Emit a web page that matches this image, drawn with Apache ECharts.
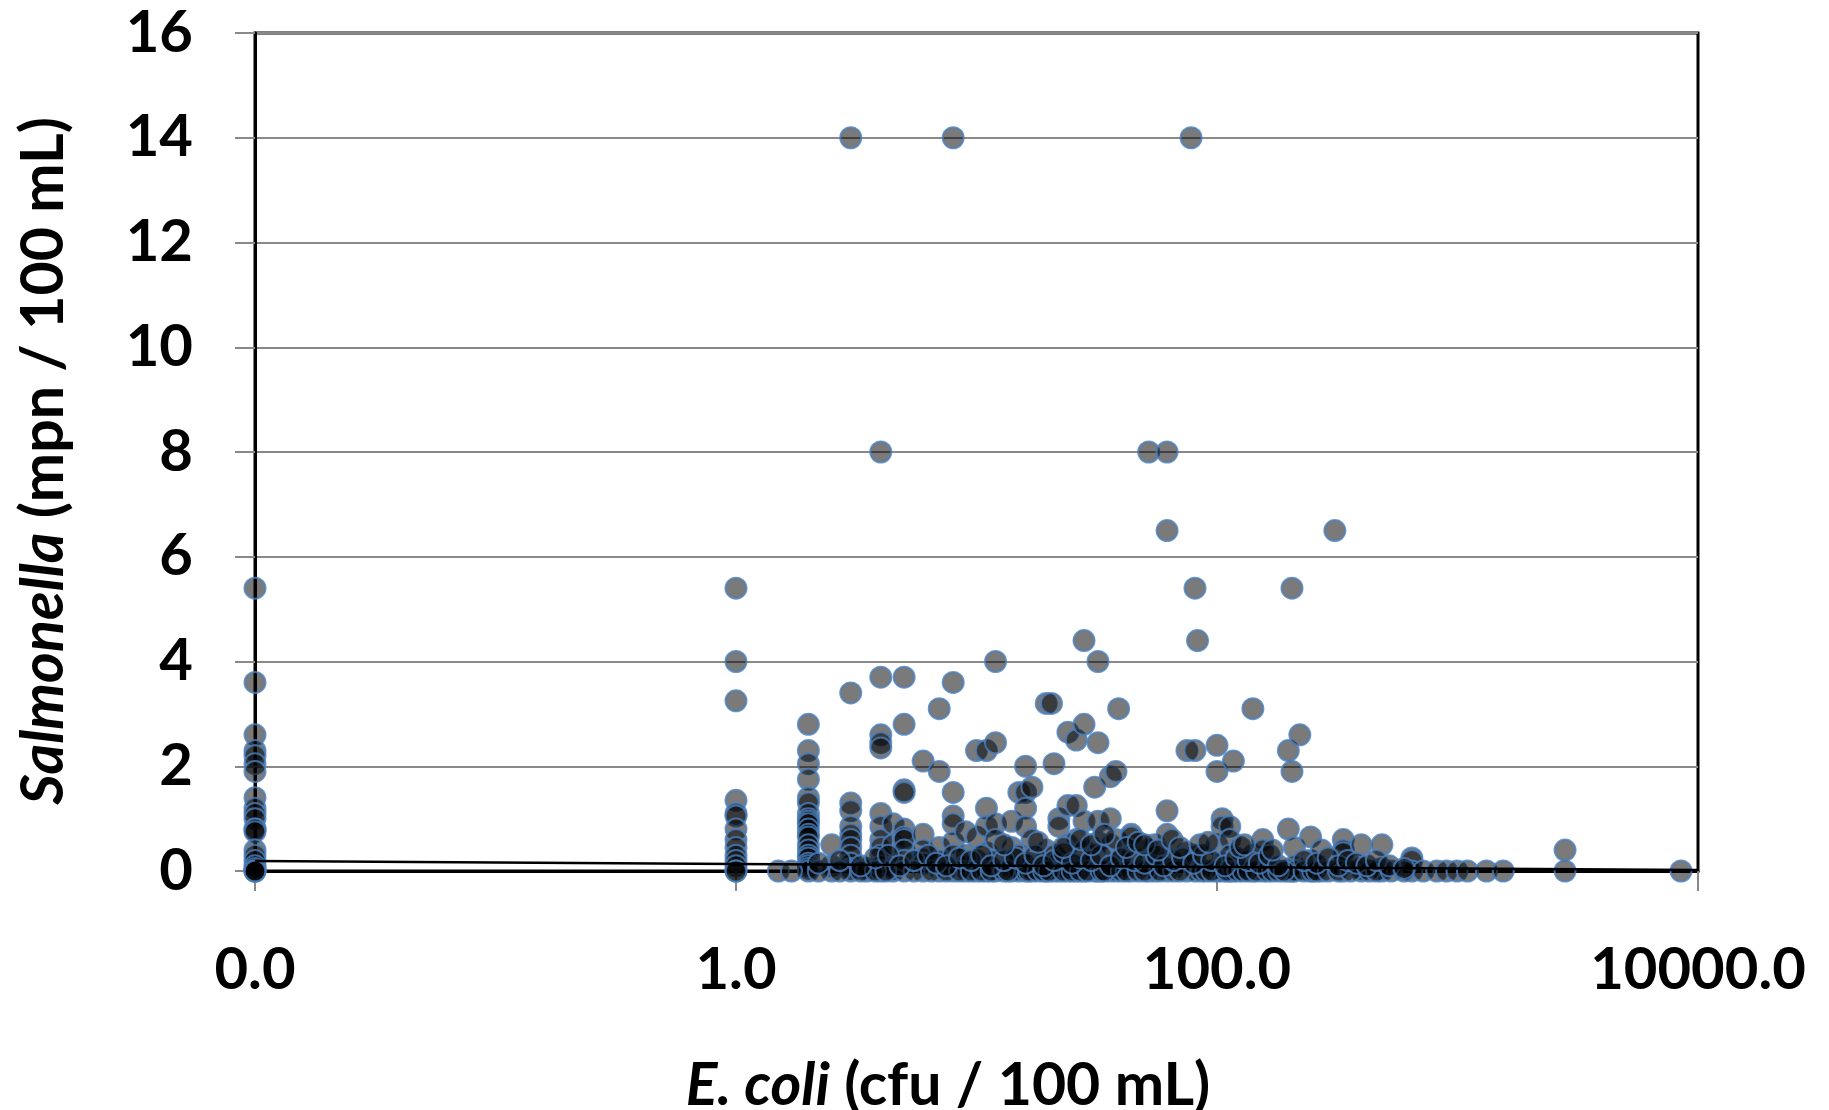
<!DOCTYPE html>
<html>
<head>
<meta charset="utf-8">
<script src="https://cdn.jsdelivr.net/npm/echarts@6/dist/echarts.min.js"></script>
<style>
html,body{margin:0;padding:0;background:#fff;}
#chart{width:1829px;height:1110px;}
</style>
</head>
<body>
<div id="chart"></div>
<script>
// ---- data ----
// E. coli = 0 plotted at the axis minimum (label "0.0")
const zeroColEcoli = 0.01;
const zeroColSalmonella = [5.4, 3.6, 2.6, 2.3, 2.2, 2.05, 1.9, 1.4, 1.2, 1.1, 1.0, 0.8, 0.8, 0.75, 0.4, 0.3, 0.2, 0.1, 0.05, 0, 0, 0];
const oneColEcoli = 1.0;
const oneColSalmonella = [5.4, 4.0, 3.25, 1.35, 1.1, 1.05, 0.8, 0.6, 0.45, 0.3, 0.2, 0.1, 0, 0];

const clusterEcoli = [2, 2.5, 3, 3.5, 4, 4.5, 5, 6, 7, 8, 9, 10, 11, 12, 14, 15, 16, 17, 19.5, 20.5, 21, 22, 24, 26, 28, 31, 32, 36, 38, 39, 44, 52, 55, 62, 75, 78, 81, 83, 100, 105, 113, 117, 141, 155, 198, 205, 210, 221, 245, 272, 309, 335, 398, 485, 646, 2800];
const clusterSalmonella = [
  [2.8, 2.3, 2.05, 1.75, 1.4, 1.3, 1.1, 1.0, 0.95, 0.9, 0.8, 0.7, 0.65, 0.5, 0.4, 0.3, 0.25, 0.15, 0.1, 0.05, 0],
  [0.5, 0.1, 0],
  [14, 3.4, 1.3, 1.15, 0.85, 0.7, 0.6, 0.45, 0.3, 0.15, 0.05, 0],
  [0.05, 0],
  [8, 3.7, 2.6, 2.45, 2.35, 1.1, 0.85, 0.6, 0.45, 0.3, 0.1, 0],
  [0.9, 0.5, 0.05, 0],
  [3.7, 2.8, 1.55, 1.5, 0.8, 0.65, 0.6, 0.4, 0.2, 0],
  [2.1, 0.7, 0.4, 0.25, 0.15, 0],
  [3.1, 1.9, 0.45, 0.2, 0],
  [14, 3.6, 1.5, 1.05, 0.9, 0.55, 0.3, 0],
  [0.75, 0.3, 0.1, 0],
  [2.3, 0.65, 0.2, 0],
  [2.3, 1.2, 0.85, 0.35, 0],
  [4.0, 2.45, 0.9, 0.6, 0.2, 0],
  [0.95, 0.45, 0.1, 0],
  [1.5, 0.3, 0],
  [2.0, 1.5, 1.2, 0.85, 0],
  [1.6, 0.6, 0.15, 0],
  [3.2, 0.4, 0],
  [3.2],
  [2.05, 0.3, 0],
  [1.0, 0.85, 0.2, 0],
  [2.65, 1.25, 0.5, 0],
  [2.5, 1.25, 0.6, 0.1, 0],
  [4.4, 2.8, 0.95, 0.4, 0],
  [1.6, 0.3, 0],
  [4.0, 2.45, 0.95, 0.55, 0],
  [1.8, 1.0, 0.5, 0],
  [1.9, 0.6, 0.1, 0],
  [3.1, 0.2],
  [0.7, 0.65, 0.3, 0],
  [8.0, 0.4, 0],
  [0.5, 0.1, 0],
  [8.0, 6.5, 1.15, 0.7, 0.2, 0],
  [2.3, 0.35, 0],
  [14],
  [5.4, 2.3, 0.3, 0],
  [4.4],
  [2.4, 1.9, 0.5, 0],
  [1.0, 0.85, 0.15, 0],
  [0.85, 0.6, 0.3, 0],
  [2.1, 0.1, 0],
  [3.1, 0.3, 0],
  [0.6, 0.4, 0],
  [2.3, 0.8, 0],
  [5.4, 1.9, 0],
  [0.45, 0.1, 0],
  [2.6],
  [0.65, 0.2, 0],
  [0.4, 0],
  [6.5],
  [0.6, 0.4, 0.35, 0],
  [0.5, 0.05, 0],
  [0.5, 0.05, 0],
  [0.25, 0.2, 0],
  [0.4, 0]
];

const zeroRowEcoli = [1.5, 1.7, 2.2, 2.7, 3.3, 3.8, 4.2, 5.5, 6.5, 7.5, 8.5, 9.5, 10.5, 11.5, 13, 13.5, 16.5, 18, 19, 20, 23, 25, 27, 29, 33, 34, 40, 42, 47, 50, 58, 66, 70, 86, 90, 95, 110, 122, 128, 135, 146, 162, 170, 180, 190, 230, 250, 260, 290, 320, 360, 430, 460, 530, 600, 720, 820, 900, 995, 1100, 1320, 1550, 8500];

const lowEcoli = [2.2, 2.7, 3.3, 3.8, 4.3, 4.8, 5.5, 6.3, 6.8, 7.5, 8.5, 9.5, 10.5, 11.5, 13, 14.5, 16, 17.5, 19, 21, 23, 25, 27, 30, 33, 36, 40, 45, 50, 56, 60, 66, 72, 80, 88, 95, 108, 120, 135, 150, 165, 180, 230, 260, 290, 320, 350, 380, 420, 460, 520, 600];
const lowSalmonella = [0.15, 0.2, 0.1, 0.25, 0.3, 0.1, 0.2, 0.3, 0.15, 0.1, 0.25, 0.2, 0.3, 0.1, 0.2, 0.25, 0.15, 0.3, 0.1, 0.2, 0.35, 0.15, 0.25, 0.2, 0.3, 0.1, 0.25, 0.2, 0.15, 0.3, 0.1, 0.2, 0.25, 0.15, 0.3, 0.2, 0.1, 0.25, 0.2, 0.15, 0.3, 0.1, 0.2, 0.15, 0.25, 0.1, 0.2, 0.15, 0.1, 0.2, 0.1, 0.05];

const midEcoli = [13, 18, 23, 27, 30, 34, 42, 47, 50, 57, 65, 70, 85, 92, 125, 130, 170];
const midSalmonella = [0.5, 0.55, 0.45, 0.6, 0.5, 0.7, 0.45, 0.55, 0.5, 0.4, 0.6, 0.45, 0.5, 0.55, 0.45, 0.5, 0.4];

const trendEcoli = [0.01, 10000];
const trendSalmonella = [0.19, 0.02];

const xTicks = [0.01, 1, 100, 10000];
const yTicks = [0, 2, 4, 6, 8, 10, 12, 14, 16];

// ---- build points ----
const points = [];
zeroColSalmonella.forEach(y => points.push([zeroColEcoli, y]));
oneColSalmonella.forEach(y => points.push([oneColEcoli, y]));
clusterEcoli.forEach((x, i) => (clusterSalmonella[i] || []).forEach(y => points.push([x, y])));
zeroRowEcoli.forEach(x => points.push([x, 0]));
lowEcoli.forEach((x, i) => points.push([x, lowSalmonella[i]]));
midEcoli.forEach((x, i) => points.push([x, midSalmonella[i]]));
const trend = trendEcoli.map((x, i) => [x, trendSalmonella[i]]);

const FONT = 'Lato';
const chart = echarts.init(document.getElementById('chart'), null, {renderer: 'canvas'});
chart.setOption({
  animation: false,
  backgroundColor: '#ffffff',
  grid: {left: 255, right: 131, top: 33, bottom: 239, containLabel: false, outerBoundsMode: 'none',
    show: true, borderColor: '#000', borderWidth: 3, backgroundColor: 'transparent'},
  xAxis: {
    type: 'log', logBase: 100, min: xTicks[0], max: xTicks[xTicks.length - 1],
    axisLine: {show: true, lineStyle: {color: '#000', width: 3}},
    axisTick: {show: true, length: 20, lineStyle: {color: '#898989', width: 2}},
    splitLine: {show: false},
    minorTick: {show: false},
    axisLabel: {margin: 70, fontFamily: FONT, fontWeight: 'bold', fontSize: 58, color: '#000',
      formatter: v => Number(v).toFixed(1)},
    name: '{i|E. coli}{n| (cfu / 100 mL)}',
    nameLocation: 'middle', nameGap: 185,
    nameTextStyle: {padding: [0, 57, 0, 0],
      rich: {i: {fontFamily: FONT, fontWeight: 'bold', fontStyle: 'italic', fontSize: 59, color: '#000'},
             n: {fontFamily: FONT, fontWeight: 'bold', fontSize: 59, color: '#000'}}}
  },
  yAxis: {
    type: 'value', min: yTicks[0], max: yTicks[yTicks.length - 1], interval: 2,
    axisLine: {show: true, lineStyle: {color: '#000', width: 3}},
    axisTick: {show: true, length: 20, lineStyle: {color: '#898989', width: 2}},
    splitLine: {show: true, lineStyle: {color: '#898989', width: 2}},
    axisLabel: {margin: 62, fontFamily: FONT, fontWeight: 'bold', fontSize: 58, color: '#000'},
    name: '{i|Salmonella}{n| (mpn / 100 mL)}',
    nameLocation: 'middle', nameGap: 182,
    nameTextStyle: {padding: [0, 18, 0, 0],
      rich: {i: {fontFamily: FONT, fontWeight: 'bold', fontStyle: 'italic', fontSize: 59, color: '#000'},
             n: {fontFamily: FONT, fontWeight: 'bold', fontSize: 59, color: '#000'}}}
  },
  series: [
    {type: 'scatter', data: points, symbol: 'circle', symbolSize: 21,
      itemStyle: {color: 'rgba(0,0,0,0.65)', borderColor: '#4a7ebb', borderWidth: 2}, z: 2},
    {type: 'line', data: trend, showSymbol: false, symbol: 'none',
      lineStyle: {color: '#000', width: 2.5}, z: 3}
  ]
});
</script>
</body>
</html>
